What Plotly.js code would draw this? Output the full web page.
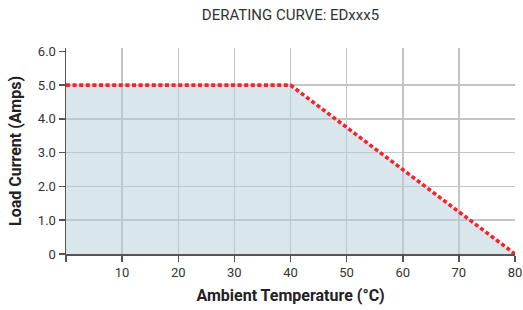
<!DOCTYPE html>
<html><head><meta charset="utf-8">
<script src="https://cdn.plot.ly/plotly-3.0.1.min.js"></script>
<style>html,body{margin:0;padding:0;background:#fff}#c{width:523px;height:310px}</style>
</head><body><div id="c"></div>
<script>
const temps = [0, 40, 80];
const current = [5.0, 5.0, 0];
const xTickVals = [0, 10, 20, 30, 40, 50, 60, 70, 80];
const xTickText = ['', '10', '20', '30', '40', '50', '60', '70', '80'];
const xGridVals = [10, 20, 30, 40, 50, 60, 70];
const yTickVals = [0, 1, 2, 3, 4, 5, 6];
const yTickText = ['0', '1.0', '2.0', '3.0', '4.0', '5.0', '6.0'];
const yGridVals = [1, 2, 3, 4, 5];

const F = '"Roboto", sans-serif';
const traces = [
  {x: temps, y: current, type: 'scatter', mode: 'lines', fill: 'tozeroy',
   fillcolor: 'rgba(180,208,220,0.5)',
   line: {color: '#ef262c', width: 3.6, dash: '4px,2.6px'}, hoverinfo: 'skip', xaxis: 'x', yaxis: 'y'},
  {x: [0], y: [0], type: 'scatter', mode: 'markers', marker: {opacity: 0, size: 1},
   xaxis: 'x2', yaxis: 'y2', hoverinfo: 'skip'}
];
const layout = {
  width: 523, height: 310,
  margin: {l: 66, r: 8, t: 48, b: 56},
  paper_bgcolor: '#fff', plot_bgcolor: 'rgba(0,0,0,0)',
  showlegend: false,
  font: {family: F, color: '#333', size: 13},
  title: {text: 'DERATING CURVE: EDxxx5', x: 0.5, xref: 'paper', y: 0.97, yanchor: 'top',
          font: {family: F, size: 15, color: '#333'}},
  xaxis: {range: [0, 80], tickvals: xTickVals, ticktext: xTickText, showgrid: false,
          zeroline: false, showline: true, linecolor: '#555', linewidth: 1.5,
          ticks: 'outside', ticklen: 6, tickcolor: '#555', tickwidth: 1.5,
          ticklabeloverflow: 'allow',
          tickfont: {family: F, size: 13, color: '#333'},
          title: {text: '<b>Ambient Temperature (°C)</b>', standoff: 10,
                  font: {family: F, size: 16, color: '#222'}}},
  yaxis: {range: [0, 6.1], tickvals: yTickVals, ticktext: yTickText, showgrid: false,
          zeroline: false, showline: true, linecolor: '#555', linewidth: 1.5,
          ticks: 'outside', ticklen: 6, tickcolor: '#555', tickwidth: 1.5,
          tickfont: {family: F, size: 13, color: '#333'},
          title: {text: '<b>Load Current (Amps)</b>', standoff: 12,
                  font: {family: F, size: 16, color: '#222'}}},
  xaxis2: {overlaying: 'x', side: 'bottom', anchor: 'y', range: [0, 80], tickvals: xGridVals, showgrid: true,
           gridcolor: '#c4c4c4', gridwidth: 1.5, showticklabels: false, ticks: '',
           zeroline: false, showline: false, mirror: false},
  yaxis2: {overlaying: 'y', side: 'left', anchor: 'x', range: [0, 6.1], tickvals: yGridVals, showgrid: true,
           gridcolor: '#c4c4c4', gridwidth: 1.5, showticklabels: false, ticks: '',
           zeroline: false, showline: false, mirror: false}
};
Plotly.newPlot('c', traces, layout, {displayModeBar: false, staticPlot: true});
</script></body></html>
